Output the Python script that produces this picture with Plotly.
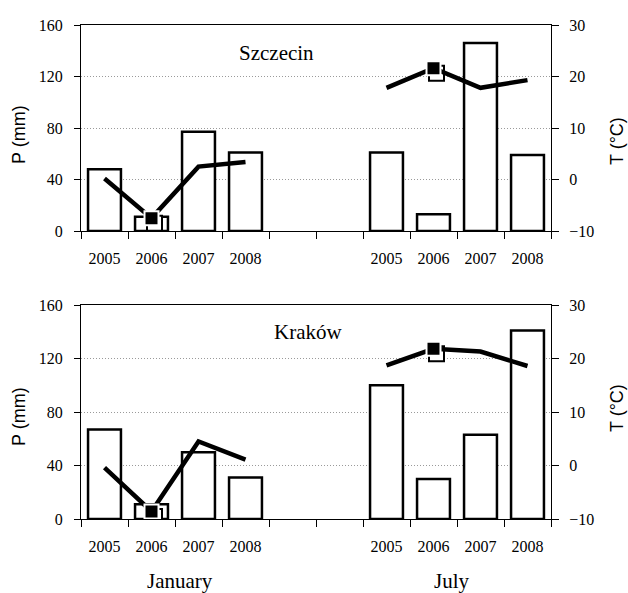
import plotly.graph_objects as go

# ---------------- data ----------------
years = ["2005", "2006", "2007", "2008"]
gap_slots = ["", ""]
categories = years + gap_slots + years          # Jan group, gap, July group
highlight_year = "2006"

szczecin_P_jan = [48, 11, 77, 61]
szczecin_P_jul = [61, 13, 146, 59]
szczecin_T_jan = [0.2, -7.5, 2.5, 3.4]
szczecin_T_jul = [17.8, 21.6, 17.8, 19.3]

krakow_P_jan = [67, 11, 50, 31]
krakow_P_jul = [100, 30, 63, 141]
krakow_T_jan = [-0.4, -8.6, 4.5, 1.1]
krakow_T_jul = [18.7, 21.8, 21.3, 18.6]

P_ticks = [0, 40, 80, 120, 160]
T_ticks = [-10, 0, 10, 20, 30]
station_names = ["Szczecin", "Kraków"]
month_labels = ["January", "July"]

# ---------------- geometry ----------------
W, H = 628, 593
ML, MR, MT, MB = 81, 77, 25, 74
PW, PH = W - ML - MR, H - MT - MB
n_slots = len(categories)
xpos = [i + 0.5 for i in range(n_slots)]
boundaries = list(range(n_slots + 1))
FONT_SERIF = "Liberation Serif"
FONT_SANS = "Liberation Sans"


def ydom(top_px, bot_px):
    return [(H - MB - bot_px) / PH, (H - MB - top_px) / PH]


panels = [
    dict(name=station_names[0], P=szczecin_P_jan + [None, None] + szczecin_P_jul,
         T=szczecin_T_jan + [None, None] + szczecin_T_jul, dom=ydom(25, 231),
         ax=(1, 3, 5), label_px=(276, 53), Plab_y=135, Tlab_y=141),
    dict(name=station_names[1], P=krakow_P_jan + [None, None] + krakow_P_jul,
         T=krakow_T_jan + [None, None] + krakow_T_jul, dom=ydom(305, 519),
         ax=(2, 4, 6), label_px=(308, 332), Plab_y=417, Tlab_y=408),
]

fig = go.Figure()
layout = dict(
    width=W, height=H,
    margin=dict(l=ML, r=MR, t=MT, b=MB, pad=0),
    paper_bgcolor="white", plot_bgcolor="rgba(0,0,0,0)",
    showlegend=False,
    font=dict(family=FONT_SERIF, size=16, color="black"),
    annotations=[],
)

SHADOW_DX, SHADOW_DY = 3, 5  # px offset of marker shadow


def axname(prefix, n):
    return prefix + ("" if n == 1 else str(n))


for p in panels:
    a, b, c = p["ax"]
    dom = p["dom"]
    hpx = (dom[1] - dom[0]) * PH
    T_range = [T_ticks[0], T_ticks[-1]]
    P_range = [P_ticks[0], P_ticks[-1]]
    hi_x = [xpos[i] for i, cat in enumerate(categories) if cat == highlight_year]
    hi_T = [p["T"][i] for i, cat in enumerate(categories) if cat == highlight_year]

    # bars (precipitation)
    fig.add_trace(go.Bar(x=xpos, y=p["P"], width=0.7,
                         marker=dict(color="white", line=dict(color="black", width=2.5)),
                         xaxis=axname("x", a), yaxis=axname("y", a), hoverinfo="skip"))
    # marker shadow
    fig.add_trace(go.Scatter(x=hi_x, y=hi_T, mode="markers",
                             marker=dict(symbol="square", size=15, color="white",
                                         line=dict(color="black", width=2)),
                             xaxis=axname("x", b), yaxis=axname("y", b), hoverinfo="skip"))
    # temperature line
    fig.add_trace(go.Scatter(x=xpos, y=p["T"], mode="lines", connectgaps=False,
                             line=dict(color="black", width=4.5),
                             xaxis=axname("x", c), yaxis=axname("y", c), hoverinfo="skip"))
    fig.add_trace(go.Scatter(x=hi_x, y=hi_T, mode="markers",
                             marker=dict(symbol="square", size=14, color="black",
                                         line=dict(color="white", width=2)),
                             xaxis=axname("x", c), yaxis=axname("y", c), hoverinfo="skip"))

    # main axes
    layout[axname("xaxis", a)] = dict(
        domain=[0, 1], range=[0, n_slots], anchor=axname("y", a),
        tickmode="array", tickvals=xpos, ticktext=categories,
        ticks="outside", ticklen=13, tickcolor="rgba(0,0,0,0)",
        showline=True, linecolor="black", linewidth=1, mirror=True,
        showgrid=False, zeroline=False, fixedrange=True,
        tickfont=dict(family=FONT_SERIF, size=16, color="black"),
    )
    layout[axname("yaxis", a)] = dict(
        domain=dom, range=P_range, anchor=axname("x", a),
        tickmode="array", tickvals=P_ticks,
        ticks="outside", ticklen=6, tickcolor="black",
        showline=True, linecolor="black", linewidth=1, mirror=True,
        showgrid=True, gridcolor="#9a9a9a", griddash="1px,2px", gridwidth=1,
        zeroline=False, fixedrange=True, ticklabelstandoff=8,
        tickfont=dict(family=FONT_SERIF, size=16, color="black"),
    )
    # shadow axes (shifted a few pixels right/down)
    dx = SHADOW_DX * n_slots / PW
    dy = SHADOW_DY * (T_range[1] - T_range[0]) / hpx
    layout[axname("xaxis", b)] = dict(domain=[0, 1], range=[-dx, n_slots - dx],
                                      anchor=axname("y", b), visible=False, fixedrange=True)
    layout[axname("yaxis", b)] = dict(domain=dom, range=[T_range[0] + dy, T_range[1] + dy],
                                      anchor=axname("x", b), visible=False, fixedrange=True)
    # temperature axes; its x axis draws the category-boundary ticks
    layout[axname("xaxis", c)] = dict(
        domain=[0, 1], range=[0, n_slots], anchor=axname("y", c),
        tickmode="array", tickvals=boundaries, showticklabels=False,
        ticks="outside", ticklen=7, tickcolor="black", tickwidth=1,
        showline=False, showgrid=False, zeroline=False, fixedrange=True)
    layout[axname("yaxis", c)] = dict(
        domain=dom, range=T_range, anchor=axname("x", c), side="right",
        tickmode="array", tickvals=T_ticks,
        ticks="outside", ticklen=7, tickcolor="black",
        showline=True, linecolor="black", linewidth=1,
        showgrid=False, zeroline=False, fixedrange=True, ticklabelstandoff=7,
        tickfont=dict(family=FONT_SERIF, size=16, color="black"),
    )

    lx, ly = p["label_px"]
    layout["annotations"].append(dict(
        text=p["name"], xref="paper", yref="paper",
        x=(lx - ML) / PW, y=(H - MB - ly) / PH, xanchor="center", yanchor="middle",
        showarrow=False, font=dict(family=FONT_SERIF, size=21, color="black")))
    layout["annotations"].append(dict(
        text="P (mm)", xref="paper", yref="paper", textangle=-90,
        x=(19 - ML) / PW, y=(H - MB - p["Plab_y"]) / PH, xanchor="center", yanchor="middle",
        showarrow=False, font=dict(family=FONT_SANS, size=18, color="black")))
    layout["annotations"].append(dict(
        text="T (°C)", xref="paper", yref="paper", textangle=-90,
        x=(617 - ML) / PW, y=(H - MB - p["Tlab_y"]) / PH, xanchor="center", yanchor="middle",
        showarrow=False, font=dict(family=FONT_SANS, size=18, color="black")))

for lbl, cx in zip(month_labels, [180, 452]):
    layout["annotations"].append(dict(
        text=lbl, xref="paper", yref="paper",
        x=(cx - ML) / PW, y=(H - MB - 581) / PH, xanchor="center", yanchor="middle",
        showarrow=False, font=dict(family=FONT_SERIF, size=21, color="black")))

fig.update_layout(**layout)
fig.write_html("out.html")
